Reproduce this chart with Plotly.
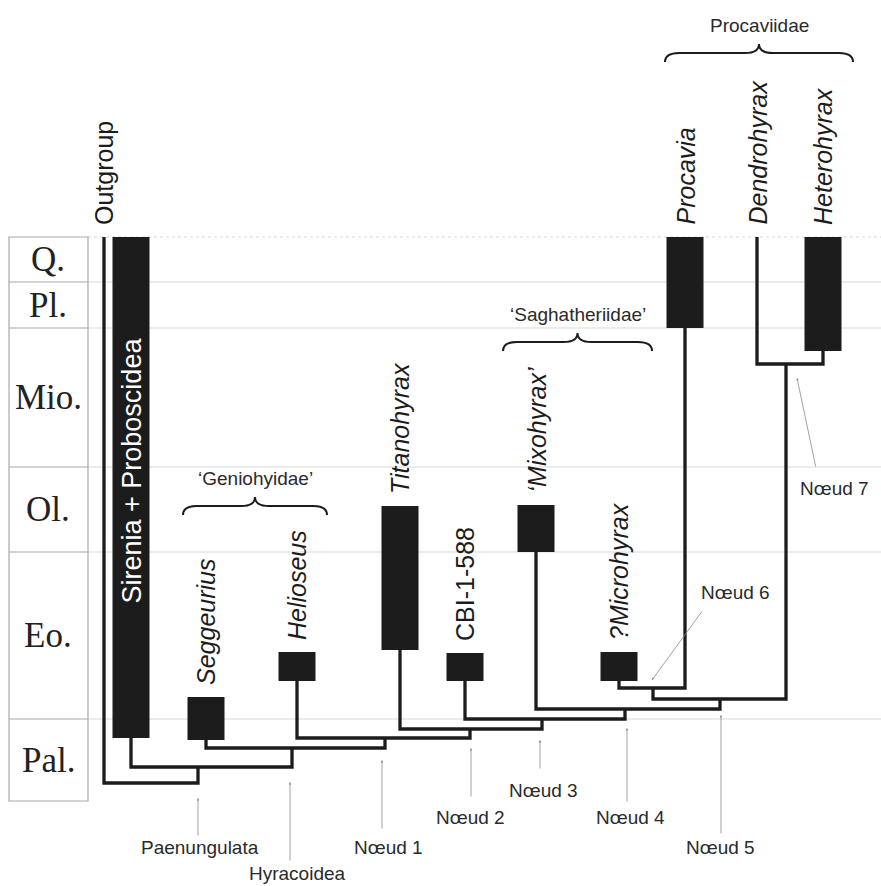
######################################
# Libraries
######################################

import plotly.graph_objects as go

######################################
# Data
######################################

# stratigraphic column (levels in chart units, top = youngest)
epochs = ["Q.", "Pl.", "Mio.", "Ol.", "Eo.", "Pal."]
epoch_edges = [237, 282, 328, 467, 552, 719, 801]

# terminal taxa: stratigraphic range (top, bottom) and parent node
taxa = ["Outgroup", "Sirenia + Proboscidea", "Seggeurius", "Helioseus", "Titanohyrax",
        "CBI-1-588", "‘Mixohyrax’", "?Microhyrax", "Procavia", "Dendrohyrax", "Heterohyrax"]
taxon_col = [104, 131, 206, 297, 400, 465, 536, 619, 685, 757, 823]
range_top = [237, 237, 697, 652, 506, 653, 505, 652, 237, 237, 237]
range_bottom = [237, 738, 740, 681, 650, 681, 552, 681, 328, 237, 351]
taxon_parent = ["root", "Paenungulata", "Hyracoidea", "Nœud 1", "Nœud 2", "Nœud 3",
                "Nœud 4", "Nœud 6", "Nœud 6", "Nœud 7", "Nœud 7"]
taxon_italic = [False, False, True, True, True, False, True, True, True, True, True]

# internal nodes
nodes = ["root", "Paenungulata", "Hyracoidea", "Nœud 1", "Nœud 2", "Nœud 3",
         "Nœud 4", "Nœud 5", "Nœud 6", "Nœud 7"]
node_col = [150, 198, 292, 385, 470, 542, 625, 720, 653, 786]
node_level = [783, 767, 748, 738, 729, 719, 709, 699, 688, 364]
node_parent = [None, "root", "Paenungulata", "Hyracoidea", "Nœud 1", "Nœud 2",
               "Nœud 3", "Nœud 4", "Nœud 5", "Nœud 5"]

# node call-outs: label position, arrow tail and head
callouts = ["Paenungulata", "Hyracoidea", "Nœud 1", "Nœud 2", "Nœud 3",
            "Nœud 4", "Nœud 5", "Nœud 6", "Nœud 7"]
callout_x = [200, 297, 388, 470, 543, 630, 720, 735, 834]
callout_y = [847, 873, 847, 817, 790, 817, 847, 592, 488]
arrow_from = [(198, 837), (290, 862), (382, 830), (471, 798), (540, 770),
              (627, 803), (721, 835), (703, 610), (816, 468)]
arrow_to = [(198, 798), (290, 782), (382, 760), (471, 748), (540, 740),
            (627, 728), (721, 715), (652, 680), (797, 378)]

# bracketed groups
groups = ["‘Geniohyidae’", "‘Saghatheriidae’", "Procaviidae"]
group_from = [183, 503, 665]
group_to = [327, 652, 853]
group_level = [506, 342, 53]

######################################
# Figure
######################################

INK = "#1c1c1c"
SANS = "Liberation Sans, Arial, sans-serif"
SERIF = "Liberation Serif, Times New Roman, serif"

node_pos = {n: (c, l) for n, c, l in zip(nodes, node_col, node_level)}

fig = go.Figure()

# faint epoch boundary lines across the chart
shapes = []
for i, e in enumerate(epoch_edges[:-1]):
    shapes.append(dict(type="line", xref="x", yref="y", x0=88, x1=881, y0=e, y1=e,
                       line=dict(color="#e4e4e4", width=1.5, dash="dot" if i == 0 else "solid"),
                       layer="below"))
# stratigraphic table
shapes.append(dict(type="rect", xref="x", yref="y", x0=9, x1=88,
                   y0=epoch_edges[0], y1=epoch_edges[-1], line=dict(color="#a8a8a8", width=1.2)))
for e in epoch_edges[1:-1]:
    shapes.append(dict(type="line", xref="x", yref="y", x0=9, x1=88, y0=e, y1=e,
                       line=dict(color="#a8a8a8", width=1.2)))

# curly braces
for x0, x1, yb in zip(group_from, group_to, group_level):
    xm = (x0 + x1) / 2
    d, r = 9, 14
    path = (f"M {x0},{yb + d} Q {x0},{yb} {x0 + r},{yb} L {xm - r},{yb} "
            f"Q {xm},{yb} {xm},{yb - d} Q {xm},{yb} {xm + r},{yb} "
            f"L {x1 - r},{yb} Q {x1},{yb} {x1},{yb + d}")
    shapes.append(dict(type="path", xref="x", yref="y", path=path,
                       line=dict(color=INK, width=2)))

# tree branches
bx, by = [], []
for c, top, bot, p in zip(taxon_col, range_top, range_bottom, taxon_parent):
    pc, pl = node_pos[p]
    bx += [c, c, pc, None]
    by += [bot, pl, pl, None]
for n, c, l, p in zip(nodes, node_col, node_level, node_parent):
    if p is None:
        continue
    pc, pl = node_pos[p]
    bx += [c, c, pc, None]
    by += [l, pl, pl, None]
fig.add_trace(go.Scatter(x=bx, y=by, mode="lines", line=dict(color=INK, width=3.3),
                         hoverinfo="skip"))

# stratigraphic ranges
bar_x = [c for c, t, b in zip(taxon_col, range_top, range_bottom) if b > t]
bar_base = [t for t, b in zip(range_top, range_bottom) if b > t]
bar_len = [b - t for t, b in zip(range_top, range_bottom) if b > t]
fig.add_trace(go.Bar(x=bar_x, y=bar_len, base=bar_base, width=37,
                     marker=dict(color=INK, line=dict(width=0)), hoverinfo="skip"))

annotations = []
for name, c, top, bot, it in zip(taxa, taxon_col, range_top, range_bottom, taxon_italic):
    if name == "Sirenia + Proboscidea":
        annotations.append(dict(x=c, y=(top + bot) / 2 - 17, text=name, textangle=-90,
                                showarrow=False, font=dict(family=SANS, size=27, color="white")))
        continue
    txt = f"<i>{name}</i>" if it else name
    annotations.append(dict(x=c, y=top - 10, text=txt, textangle=-90, showarrow=False,
                            xanchor="center", yanchor="bottom",
                            font=dict(family=SANS, size=25, color=INK)))

for name, y0, y1 in zip(epochs, epoch_edges[:-1], epoch_edges[1:]):
    annotations.append(dict(x=48, y=(y0 + y1) / 2, text=name, showarrow=False,
                            font=dict(family=SERIF, size=35, color="#222")))

for name, x0, x1, yb in zip(groups, group_from, group_to, group_level):
    annotations.append(dict(x=(x0 + x1) / 2, y=yb - 28, text=name, showarrow=False,
                            font=dict(family=SANS, size=19, color="#2a2a2a")))

for name, x, y, a, b in zip(callouts, callout_x, callout_y, arrow_from, arrow_to):
    annotations.append(dict(x=x, y=y, text=name, showarrow=False,
                            font=dict(family=SANS, size=19, color="#2a2a2a")))
    annotations.append(dict(x=b[0], y=b[1], ax=a[0], ay=a[1], axref="x", ayref="y",
                            text="", showarrow=True, arrowhead=2, arrowsize=0.6,
                            arrowwidth=0.8, arrowcolor="#8a8a8a"))

fig.update_layout(width=881, height=886, margin=dict(l=0, r=0, t=0, b=0),
                  paper_bgcolor="white", plot_bgcolor="white", showlegend=False,
                  xaxis=dict(range=[0, 881], visible=False),
                  yaxis=dict(range=[886, 0], visible=False),
                  shapes=shapes, annotations=annotations)

# the page body has a default 8px margin; drop it so the figure fills the window
fig.write_html("out.html", config={"displayModeBar": False},
               post_script="document.body.style.margin='0';")
